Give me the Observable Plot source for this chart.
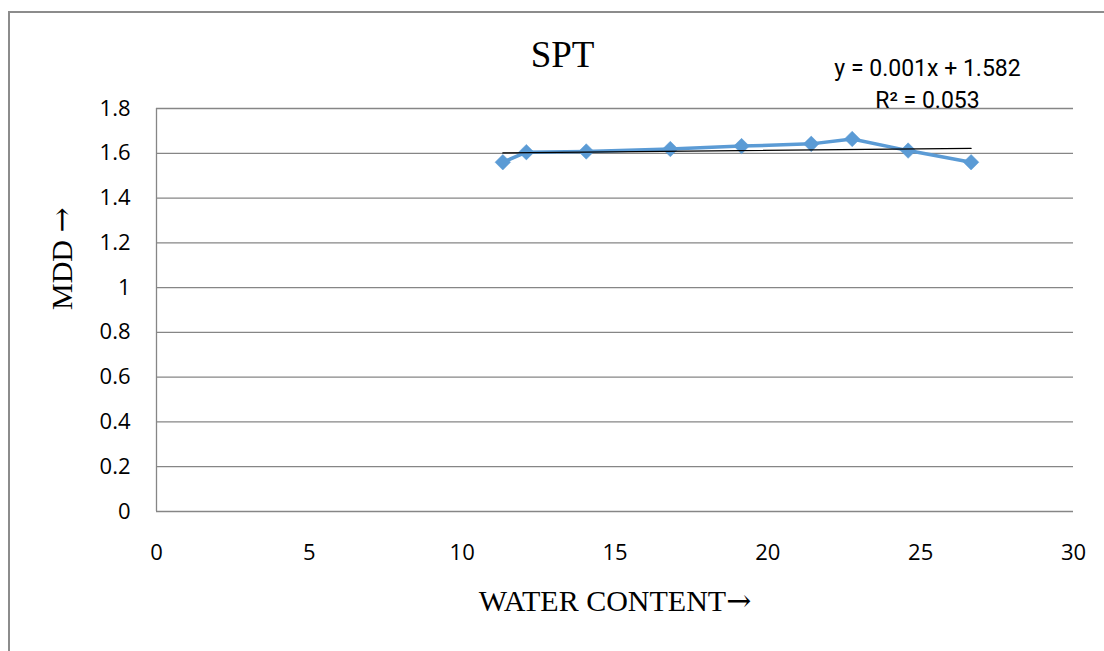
<!DOCTYPE html>
<html>
<head>
<meta charset="utf-8">
<script src="https://cdn.jsdelivr.net/npm/d3@7"></script>
<script src="https://cdn.jsdelivr.net/npm/@observablehq/plot@0.6"></script>
<style>
  html, body { margin: 0; padding: 0; background: #fff; }
  #wrap { position: relative; width: 1104px; height: 651px; overflow: hidden; }
  #frame { position: absolute; left: 8px; top: 11px; width: 1200px; height: 700px;
           border-left: 2px solid #8c8c8c; border-top: 2px solid #8c8c8c; }
  #chart { position: absolute; left: 0; top: 0; }
</style>
</head>
<body>
<div id="wrap"><div id="frame"></div><div id="chart"></div></div>
<script>
const waterContent = [11.33, 12.1, 14.06, 16.81, 19.14, 21.42, 22.76, 24.59, 26.65];
const mdd = [1.560, 1.605, 1.608, 1.619, 1.632, 1.642, 1.664, 1.612, 1.560];
const xTicks = [0, 5, 10, 15, 20, 25, 30];
const yTicks = [0, 0.2, 0.4, 0.6, 0.8, 1, 1.2, 1.4, 1.6, 1.8];
const titleText = "SPT";
const xLabel = "WATER CONTENT\u2192";
const yLabel = "MDD \u2192";
const eqLines = ["y = 0.001x + 1.582", "R\u00b2 = 0.053"];

const data = waterContent.map((x, i) => ({x, y: mdd[i]}));

const W = 1104, H = 651;
const mL = 156, mT = 108, mR = 31, mB = 140;
const plotCx = mL + (W - mL - mR) / 2;
const serif = "'Liberation Serif', 'Times New Roman', serif";

const chart = Plot.plot({
  width: W,
  height: H,
  marginLeft: mL,
  marginTop: mT,
  marginRight: mR,
  marginBottom: mB,
  style: {fontFamily: "'Open Sans', sans-serif", color: "#000", background: "transparent"},
  x: {domain: [0, 30], ticks: xTicks},
  y: {domain: [0, 1.8], ticks: yTicks},
  marks: [
    Plot.gridY(yTicks, {stroke: "#868686", strokeOpacity: 1, strokeWidth: 1.3}),
    Plot.ruleX([0], {stroke: "#868686", strokeWidth: 1.3}),
    Plot.axisX({ticks: xTicks, tickSize: 0, tickPadding: 33, fontSize: 22, label: null,
                tickFormat: d => String(d)}),
    Plot.axisY({ticks: yTicks, tickSize: 0, tickPadding: 26, fontSize: 22, label: null,
                tickFormat: d => String(+d.toFixed(1))}),
    Plot.line(data, {x: "x", y: "y", stroke: "#5B9BD5", strokeWidth: 3.5}),
    Plot.dot(data, {x: "x", y: "y", symbol: "diamond2", r: 7, fill: "#5B9BD5", stroke: "#5B9BD5", strokeWidth: 0.5}),
    Plot.linearRegressionY(data, {x: "x", y: "y", stroke: "#000", strokeWidth: 1.2, ci: 0}),
    Plot.text([titleText], {frameAnchor: "top", dx: 562 - plotCx, dy: 66 - mT, lineAnchor: "bottom",
                            fontSize: 37, fontFamily: serif}),
    Plot.text([eqLines[0]], {frameAnchor: "top-right", dx: -146, dy: 75 - mT, lineAnchor: "bottom", textAnchor: "middle",
                            fontSize: 23, fontFamily: "Roboto, sans-serif"}),
    Plot.text([eqLines[1]], {frameAnchor: "top-right", dx: -146, dy: 107 - mT, lineAnchor: "bottom", textAnchor: "middle",
                            fontSize: 23, fontFamily: "Roboto, sans-serif"}),
    Plot.text([xLabel], {frameAnchor: "bottom", dy: 610 - (H - mB), lineAnchor: "bottom", className: "arrowlabel",
                         fontSize: 30, fontFamily: serif}),
    Plot.text([yLabel], {frameAnchor: "left", dx: 62 - mL, rotate: -90, lineAnchor: "middle", className: "arrowlabel",
                         fontSize: 30, fontFamily: serif})
  ]
});
// enlarge the arrow glyph so it matches the long serif arrow of the original
chart.querySelectorAll("text").forEach(t => {
  if (t.textContent.includes("\u2192") && !t.querySelector("tspan")) {
    const txt = t.textContent;
    const i = txt.indexOf("\u2192");
    t.textContent = "";
    t.appendChild(document.createTextNode(txt.slice(0, i)));
    const ts = document.createElementNS("http://www.w3.org/2000/svg", "tspan");
    ts.setAttribute("font-family", "'DejaVu Serif', serif");
    ts.setAttribute("font-size", "30");
    ts.setAttribute("transform", "scale(1.3,1)");
    ts.textContent = "\u2192";
    t.appendChild(ts);
  }
});
document.getElementById("chart").appendChild(chart);
</script>
</body>
</html>
